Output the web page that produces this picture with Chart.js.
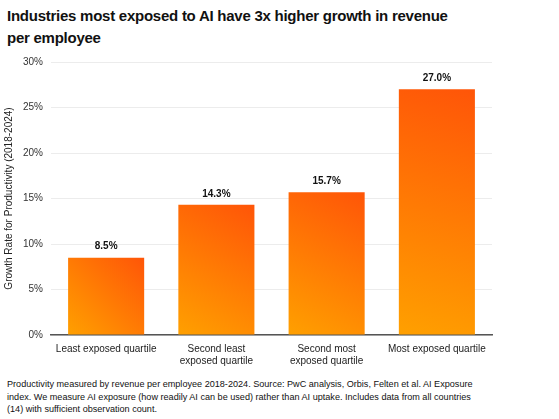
<!DOCTYPE html>
<html>
<head>
<meta charset="utf-8">
<script src="https://cdn.jsdelivr.net/npm/chart.js@4/dist/chart.umd.min.js"></script>
<style>
  body { margin:0; width:559px; height:419px; background:#fff; font-family:"Liberation Sans", Arial, sans-serif; position:relative; overflow:hidden; }
  .title { position:absolute; left:7px; top:5px; width:455px; font-size:15px; font-weight:bold; line-height:22px; color:#111; letter-spacing:-0.25px; }
  .chartbox { position:absolute; left:0; top:48px; width:559px; height:327px; }
  .note { position:absolute; left:7px; top:378px; width:482px; font-size:9.1px; line-height:12.6px; color:#111; }
</style>
</head>
<body>
<div class="title">Industries most exposed to AI have 3x higher growth in revenue per employee</div>
<div class="chartbox"><canvas id="myChart"></canvas></div>
<div class="note">Productivity measured by revenue per employee 2018-2024. Source: PwC analysis, Orbis, Felten et al. AI Exposure index. We measure AI exposure (how readily AI can be used) rather than AI uptake. Includes data from all countries (14) with sufficient observation count.</div>
<script>
// 카테고리 / 값 / 눈금
const categories = [
  ["Least exposed quartile"],
  ["Second least", "exposed quartile"],
  ["Second most", "exposed quartile"],
  ["Most exposed quartile"]
];
const growth = [8.5, 14.3, 15.7, 27.0];
const yTicks = [0, 5, 10, 15, 20, 25, 30];

const BAR_PCT = 0.69;
const ctx = document.getElementById('myChart');

// 막대마다 좌하단(노랑) -> 우상단(빨강) 그라디언트
function barGradient(c) {
  const chart = c.chart;
  const xs = chart.scales.x, ys = chart.scales.y;
  if (!xs || !ys || !chart.chartArea || c.dataIndex == null) return '#ff7a00';
  const cx = xs.getPixelForValue(c.dataIndex);
  const w = xs.width / categories.length * BAR_PCT;
  const top = ys.getPixelForValue(growth[c.dataIndex]);
  const bottom = ys.getPixelForValue(0);
  if (!isFinite(cx) || !isFinite(top)) return '#ff7a00';
  const g = chart.ctx.createLinearGradient(cx - w / 2, bottom, cx + w / 2, top);
  g.addColorStop(0, '#ffa000');
  g.addColorStop(1, '#ff5508');
  return g;
}

// 막대 위 값 표시
const valueLabels = {
  id: 'valueLabels',
  afterDatasetsDraw(chart) {
    const c = chart.ctx;
    chart.getDatasetMeta(0).data.forEach((bar, i) => {
      c.save();
      c.font = 'bold 10px "Liberation Sans", Arial, sans-serif';
      c.fillStyle = '#111';
      c.textAlign = 'center';
      c.textBaseline = 'bottom';
      c.fillText(growth[i].toFixed(1) + '%', bar.x, bar.y - 6);
      c.restore();
    });
  }
};

new Chart(ctx, {
  type: 'bar',
  data: {
    labels: categories,
    datasets: [{
      label: 'Growth Rate for Productivity',
      data: growth,
      backgroundColor: barGradient,
      borderWidth: 0,
      barPercentage: BAR_PCT,
      categoryPercentage: 1
    }]
  },
  options: {
    responsive: true,
    maintainAspectRatio: false,
    animation: false,
    layout: { padding: { left: 3, right: 67, top: 9, bottom: 0 } },
    plugins: { legend: { display: false }, tooltip: { enabled: false } },
    scales: {
      x: {
        grid: { display: false, drawTicks: false },
        border: { color: '#555', width: 1.5 },
        ticks: {
          color: '#222',
          padding: 8,
          font: { size: 10, family: '"Liberation Sans", Arial, sans-serif' },
          maxRotation: 0
        }
      },
      y: {
        min: 0,
        max: 30,
        afterBuildTicks(axis) { axis.ticks = yTicks.map(v => ({ value: v })); },
        grid: { color: '#ececec', drawTicks: false },
        border: { display: false },
        ticks: {
          color: '#333',
          padding: 8,
          font: { size: 10, family: '"Liberation Sans", Arial, sans-serif' },
          callback: (v) => v + '%'
        },
        title: {
          display: true,
          text: 'Growth Rate for Productivity (2018-2024)',
          color: '#222',
          padding: { top: 0, bottom: 0 },
          font: { size: 10, family: '"Liberation Sans", Arial, sans-serif' }
        }
      }
    }
  },
  plugins: [valueLabels]
});
</script>
</body>
</html>
